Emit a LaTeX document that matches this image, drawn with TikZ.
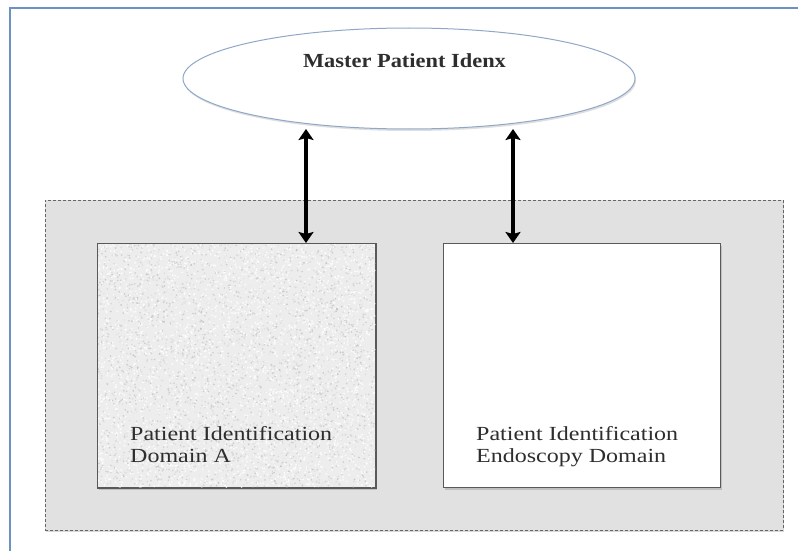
\documentclass[tikz,border=0pt]{standalone}
\usepackage{fontspec}
\setmainfont{Liberation Serif}
\newfontfamily\widefont[FakeStretch=1.2]{Liberation Serif}
\newfontfamily\widebold[FakeStretch=1.12]{Liberation Serif Bold}
\usetikzlibrary{shapes.geometric,shadows,arrows.meta}

\definecolor{frameblue}{HTML}{6A93C4}
\definecolor{ovalblue}{HTML}{8FA8C8}
\definecolor{panelgray}{HTML}{E1E1E1}
\definecolor{inkgray}{HTML}{2E2E2E}

\tikzset{
  domainbox/.style={draw=black!65, line width=1pt, anchor=north west,
    drop shadow={shadow xshift=1.5pt, shadow yshift=-2pt, opacity=0.35}},
  boxlabel/.style={anchor=base west, align=left, text=inkgray,
    font=\widefont\fontsize{20}{22.5}\selectfont, inner sep=0pt},
  linkarrow/.style={{Stealth[length=11pt,width=15pt,inset=2pt]}-{Stealth[length=11pt,width=15pt,inset=2pt]},
    line width=3.2pt, black}
}

\begin{document}
\begin{tikzpicture}[x=1pt,y=-1pt]
\useasboundingbox (0,0) rectangle (798,551);
\clip (0,0) rectangle (798,551);
\fill[white] (0,0) rectangle (798,551);

% outer frame
\draw[frameblue, line width=1.3pt] (10,600) |- (820,8);

% shared domain panel
\node[draw=black!60, densely dashed, line width=0.9pt, fill=panelgray,
  minimum width=738pt, minimum height=330pt, anchor=north west,
  drop shadow={shadow xshift=1pt, shadow yshift=-1.5pt, opacity=0.3}]
  (panel) at (45,200) {};

% master index
\node[ellipse, draw=ovalblue, line width=1pt, fill=white,
  minimum width=452pt, minimum height=101pt,
  drop shadow={shadow xshift=1pt, shadow yshift=-2pt, opacity=0.25}]
  (mpi) at (409,78.5) {};
\node[text=inkgray, anchor=base, inner sep=0pt,
  font=\widebold\fontsize{20}{22}\selectfont] (mpitext) at (404.5,67.5) {Master Patient Idenx};

% domain A with speckled fill
\node[domainbox, fill=black!7, minimum width=278pt, minimum height=244pt] (boxA) at (97,243) {};
\begin{scope}
  \clip (boxA.south west) rectangle (boxA.north east);
  \pgfmathsetseed{4711}
  \foreach \i in {1,...,3200} {
    \pgfmathsetmacro{\px}{97+278*rnd}
    \pgfmathsetmacro{\py}{243+244*rnd}
    \pgfmathsetmacro{\sh}{int(10+18*rnd)}
    \fill[black!\sh, opacity=0.7] (\px,\py) circle (0.9pt);
  }
  \foreach \i in {1,...,2600} {
    \pgfmathsetmacro{\px}{97+278*rnd}
    \pgfmathsetmacro{\py}{243+244*rnd}
    \fill[white, opacity=0.8] (\px,\py) circle (1pt);
  }
\end{scope}
\draw[black!65, line width=1pt] (boxA.south west) rectangle (boxA.north east);

% endoscopy domain
\node[domainbox, fill=white, minimum width=277pt, minimum height=244pt] (boxB) at (443,243) {};

% two-line labels, placed by the baseline of their last line
\node[boxlabel] (labA) at (130,462.5) {Patient Identification\\Domain A};
\node[boxlabel] (labB) at (476,462.5) {Patient Identification\\Endoscopy Domain};

% links between the index and both domains
\coordinate (linkA) at (306,129);
\coordinate (linkB) at (513,129);
\draw[linkarrow] (linkA) -- (linkA |- boxA.north);
\draw[linkarrow] (linkB) -- (linkB |- boxB.north);
\end{tikzpicture}
\end{document}
